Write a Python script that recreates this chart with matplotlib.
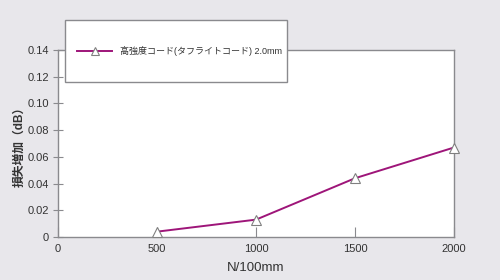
import matplotlib
matplotlib.use("Agg")
import matplotlib.pyplot as plt
from matplotlib.patches import Rectangle

### Data ################################################################################
n_per_100mm = [500, 1000, 1500, 2000]
loss_increase = [0.004, 0.013, 0.044, 0.067]
series_name = "高強度コード(タフライトコード) 2.0mm"
x_ticks = [0, 500, 1000, 1500, 2000]
y_ticks = [0, 0.02, 0.04, 0.06, 0.08, 0.10, 0.12, 0.14]
y_ticklabels = ["0", "0.02", "0.04", "0.06", "0.08", "0.10", "0.12", "0.14"]

plt.rcParams["font.family"] = ["Liberation Sans", "Noto Sans CJK JP", "DejaVu Sans"]

bg = "#e8e7eb"
edge = "#8a8a8e"
line_col = "#9e1579"
W, H = 500, 280

fig = plt.figure( figsize=(5, 2.8), dpi=100, facecolor=bg )
ax = fig.add_axes( [58/W, 1 - 237/H, (454 - 58)/W, (237 - 50)/H] )
ax.set_facecolor( "white" )

ax.plot( n_per_100mm, loss_increase, color=line_col, linewidth=1.4,
         marker="^", markersize=6.5, markerfacecolor="white",
         markeredgecolor="#808080", markeredgewidth=0.8, label=series_name,
         clip_on=False, zorder=3 )

ax.set_xlim( 0, 2000 )
ax.set_ylim( 0, 0.14 )
ax.set_xticks( x_ticks )
ax.set_yticks( y_ticks )
ax.set_yticklabels( y_ticklabels )

for s in ax.spines.values():
    s.set_color( edge )
    s.set_linewidth( 1.0 )

ax.tick_params( axis="x", direction="in", length=7, color=edge, labelsize=8,
                labelcolor="#333333", pad=5 )
ax.tick_params( axis="y", direction="inout", length=7, color=edge, labelsize=8,
                labelcolor="#333333", pad=3 )

ax.set_xlabel( "N/100mm", fontsize=9.5, color="#333333", labelpad=6 )
ax.set_ylabel( "損失増加（dB）", fontsize=8.5, color="#333333",
               fontweight="bold" )
ax.yaxis.set_label_coords( (26 - 58)/396, 0.5 )

# legend box
box = Rectangle( (65/W, 1 - 82/H), (287 - 65)/W, (82 - 20)/H,
                 transform=fig.transFigure, facecolor="white",
                 edgecolor=edge, linewidth=1.0, zorder=3 )
fig.patches.append( box )

leg = fig.legend( loc="center left", bbox_to_anchor=(77/W, 1 - 51/H),
                  borderaxespad=0, borderpad=0, fontsize=6.5, frameon=False,
                  handlelength=3.9, handletextpad=0.9, markerscale=0.85 )
leg.set_zorder( 5 )
for t in leg.get_texts():
    t.set_color( "#333333" )

fig.savefig( "out.png", dpi=100, facecolor=bg )
